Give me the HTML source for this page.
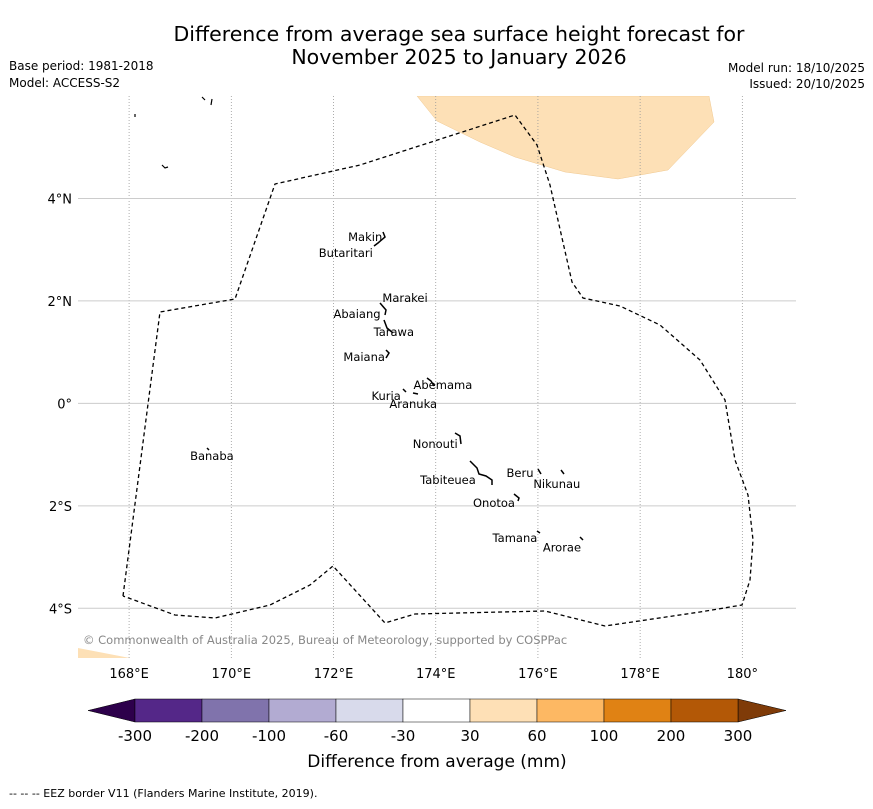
<!DOCTYPE html>
<html><head><meta charset="utf-8"><style>
body{margin:0;background:#fff;font-family:"Liberation Sans","DejaVu Sans",sans-serif}
svg text{font-family:"DejaVu Sans","Liberation Sans",sans-serif}
</style></head><body>
<svg id="s" width="873" height="804" viewBox="0 0 873 804">
<rect width="873" height="804" fill="#fff"/>
<text x="459" y="41" text-anchor="middle" font-size="20.5">Difference from average sea surface height forecast for</text>
<text x="459" y="64" text-anchor="middle" font-size="20.5">November 2025 to January 2026</text>
<text x="9" y="70" font-size="12">Base period: 1981-2018</text>
<text x="9" y="87" font-size="12">Model: ACCESS-S2</text>
<text x="865" y="72" font-size="12" text-anchor="end">Model run: 18/10/2025</text>
<text x="865" y="88" font-size="12" text-anchor="end">Issued: 20/10/2025</text>
<g id="map"></g>
<g id="cb"></g>
<text x="437" y="767" text-anchor="middle" font-size="17">Difference from average (mm)</text>
<text x="9" y="797" font-size="11">--  --  -- EEZ border V11 (Flanders Marine Institute, 2019).</text>
</svg>
<script>
const lonTicks=[168,170,172,174,176,178,180];
const lonLabels=["168°E","170°E","172°E","174°E","176°E","178°E","180°"];
const latTicks=[4,2,0,-2,-4];
const latLabels=["4°N","2°N","0°","2°S","4°S"];
const islandNames=["Makin","Butaritari","Marakei","Abaiang","Tarawa","Maiana","Abemama","Kuria","Aranuka","Nonouti","Tabiteuea","Beru","Nikunau","Onotoa","Tamana","Arorae","Banaba"];
const islandLon=[172.62,172.24,173.40,172.46,173.18,172.60,174.14,173.03,173.56,173.99,174.24,175.65,176.37,175.14,175.55,176.47,169.62];
const islandLat=[3.25,2.94,2.06,1.74,1.39,0.91,0.36,0.14,-0.01,-0.79,-1.50,-1.36,-1.57,-1.94,-2.63,-2.81,-1.03];
const cbBounds=["-300","-200","-100","-60","-30","30","60","100","200","300"];
const cbColors=["#542788","#8073ac","#b2abd2","#d8daeb","#ffffff","#fee0b6","#fdb863","#e08214","#b35806"];
const X0=78,X1=796,Y0=96,Y1=658;
const lonMin=167,lonMax=181.05,latMax=6,latMin=-4.97;
const xs=l=>X0+(l-lonMin)/(lonMax-lonMin)*(X1-X0);
const ys=l=>Y0+(latMax-l)/(latMax-latMin)*(Y1-Y0);
const NS="http://www.w3.org/2000/svg";
function mk(p,t,a){const e=document.createElementNS(NS,t);for(const k in a)e.setAttribute(k,a[k]);p.appendChild(e);return e;}
const map=document.getElementById('map');
const clip=mk(map,'clipPath',{id:'c'});mk(clip,'rect',{x:X0,y:Y0,width:X1-X0,height:Y1-Y0});
const g=mk(map,'g',{'clip-path':'url(#c)'});
let e=mk(g,'path',{d:'M417,96 L437,121 L480,142 L515,157 L565,172 L618,179 L668,170 L714,122 L709,96 Z',fill:'#fde0b6',stroke:'#f0c890','stroke-width':0.5});

e=mk(g,'path',{d:'M78,648 L130,658 L78,658 Z',fill:'#fde0b6'});

lonTicks.forEach((v,i)=>{
 e=mk(g,'line',{x1:xs(v),x2:xs(v),y1:Y0,y2:Y1,stroke:'#999','stroke-width':0.8,'stroke-dasharray':'1,2'});
 
 e=mk(map,'text',{x:xs(v),y:678,'text-anchor':'middle','font-size':13});e.textContent=lonLabels[i];
 
});
latTicks.forEach((v,i)=>{
 e=mk(g,'line',{x1:X0,x2:X1,y1:ys(v),y2:ys(v),stroke:'#ccc','stroke-width':1});
 
 e=mk(map,'text',{x:72,y:ys(v)+5,'text-anchor':'end','font-size':13});e.textContent=latLabels[i];
 
});
e=mk(g,'path',{d:'M123,596 L160,312 L235,299 L275,184 L360,165 L515,115 L537,145 L550,185 L572,282 L583,298 L620,306 L660,325 L700,360 L725,400 L735,460 L748,495 L753,540 L750,580 L742,605 L700,612 L605,626 L545,611 L415,614 L385,623 L333,566 L310,585 L270,605 L215,618 L175,615 L123,596',fill:'none',stroke:'#000','stroke-width':1.3,'stroke-dasharray':'4,3'});

['M135,114 l0,3','M202,97 l3,3 M212,99 l-1,6','M162,165 l3,3 l3,-1'].forEach(d=>{mk(g,'path',{d,fill:'none',stroke:'#000','stroke-width':1.2});});
islandNames.forEach((n,i)=>{
 const x=xs(islandLon[i]),y=ys(islandLat[i]);
 e=mk(map,'text',{x:x,y:y+4,'text-anchor':'middle','font-size':11.5});e.textContent=n;
 
});
['M383,232 l2,5 l-7,6 l-4,3','M380,303 l6,7 l-1,5','M384,320 l3,8 l6,5','M386,350 l3,3 l-3,5','M427,378 l4,3 l3,5','M403,389 l3,3 M413,393 l5,1','M455,433 l5,3 l1,8','M470,461 l7,7 l2,6 l7,2 l6,4 l0,5','M538,469 l3,5','M561,470 l3,4','M514,494 l5,4 l-1,3','M537,531 l3,2','M580,537 l3,3','M207,448 l2,2'].forEach(d=>{
 e=mk(g,'path',{d,fill:'none',stroke:'#000','stroke-width':1.5});
 
});
e=mk(map,'text',{x:83,y:644,'font-size':11.5,fill:'#888'});e.textContent='© Commonwealth of Australia 2025, Bureau of Meteorology, supported by COSPPac';

const cb=document.getElementById('cb');
const cx0=135,cx1=738,cy0=699,cy1=722,w=(cx1-cx0)/cbColors.length;
e=mk(cb,'path',{d:`M${cx0},${cy0} L88,${(cy0+cy1)/2} L${cx0},${cy1} Z`,fill:'#2d004b',stroke:'#000','stroke-width':0.5});

e=mk(cb,'path',{d:`M${cx1},${cy0} L786,${(cy0+cy1)/2} L${cx1},${cy1} Z`,fill:'#7f3b08',stroke:'#000','stroke-width':0.5});

cbColors.forEach((c,i)=>{
 e=mk(cb,'rect',{x:cx0+i*w,y:cy0,width:w,height:cy1-cy0,fill:c,stroke:'#000','stroke-width':0.5});
 
});
cbBounds.forEach((b,i)=>{
 e=mk(cb,'text',{x:cx0+i*w,y:741,'text-anchor':'middle','font-size':15});e.textContent=b;
 
});
</script>
</body></html>
